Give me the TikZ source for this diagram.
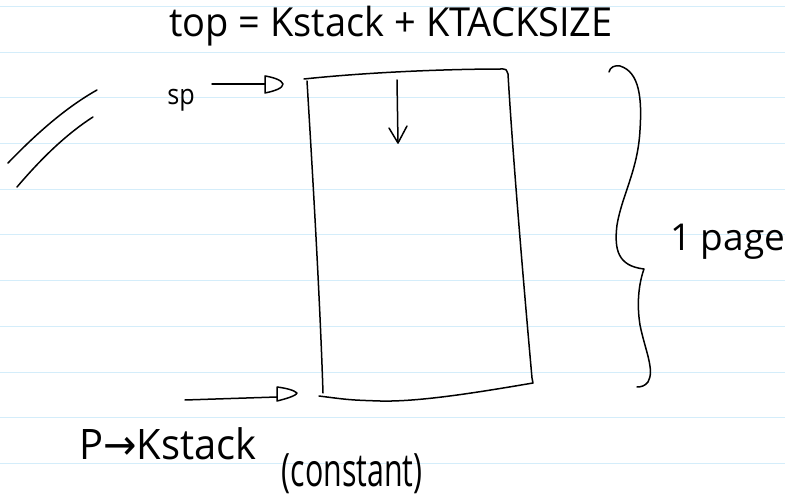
\documentclass[tikz,border=0pt]{standalone}
\usepackage{fontspec}
\setmainfont{Open Sans}
\newfontfamily\arrowfont{DejaVu Sans}
\definecolor{rulecol}{RGB}{212,237,250}
\begin{document}
\begin{tikzpicture}[x=1pt,y=-1pt,
  ink/.style={line width=1.5pt, line cap=round, line join=round, black},
  hand/.style={inner sep=0pt, outer sep=0pt, black},
  ruleline/.style={rulecol, line width=1pt}]
\useasboundingbox (0,0) rectangle (785,502);
\fill[white] (0,0) rectangle (785,502);
\foreach \i in {0,...,10} \draw[ruleline] (0,{6.5+45.7*\i}) -- (785,{6.5+45.7*\i});

% texts
\node[hand, font=\fontsize{40}{40}\selectfont, xscale=0.95] (toptext) at (391,26) {top = Kstack + KTACKSIZE};
\node[hand, font=\fontsize{28}{28}\selectfont, xscale=0.9] (sp) at (181,100) {sp};
\node[hand, font=\fontsize{42}{42}\selectfont, xscale=0.95] (pk) at (168,444) {P{\arrowfont →}Kstack};
\node[hand, font=\fontsize{46}{46}\selectfont, xscale=0.66] (const) at (352,474) {(constant)};
\node[hand, font=\fontsize{37}{37}\selectfont, anchor=west] (page) at (670,242) {1 page};

% named coordinates
\coordinate (tl) at (304,79);
\coordinate (tr) at (503,69);
\coordinate (br) at (533,383);
\coordinate (bl) at (319,396);

% stack rectangle
\draw[ink] (tl) .. controls (370,72) and (450,69) .. (tr) .. controls (506,69) .. (508,74)
  .. controls (513,160) and (525,300) .. (532,378) -- (br)
  .. controls (480,392) and (420,402) .. (380,401) .. controls (350,400) .. (bl);
\draw[ink] (307,81) .. controls (313,180) and (320,300) .. (323,393);

% down arrow inside
\coordinate (da) at (397,80);
\coordinate (db) at (398,143);
\draw[ink] (da) -- (db);
\draw[ink] (389,128) -- (db) -- (407,126);

% sp arrow
\coordinate (spa) at (212,84);
\coordinate (spb) at (265,84);
\draw[ink] (spa) -- (spb);
\draw[ink] (265,76) -- (265,93) .. controls (275,91) and (283,88) .. (283,84) .. controls (282,80) and (272,77) .. (265,76);

% bottom arrow
\coordinate (ba) at (185,400);
\coordinate (bb) at (277,397);
\draw[ink] (ba) -- (bb);
\draw[ink] (277,387) -- (277,401) .. controls (285,399) and (296,396) .. (297,393) .. controls (294,390) and (285,388) .. (277,387);

% slashes
\draw[ink] (8,163) .. controls (35,135) and (65,108) .. (97,90);
\draw[ink] (17,187) .. controls (40,160) and (65,135) .. (93,117);

% brace
\draw[ink] (609,72) .. controls (610,67) and (615,65) .. (620,66)
  .. controls (640,72) and (642,100) .. (640,130)
  .. controls (638,170) and (622,195) .. (617,225)
  .. controls (614,250) and (618,266) .. (644,269)
  .. controls (640,280) and (636,300) .. (640,325)
  .. controls (645,350) and (655,370) .. (648,382)
  .. controls (645,386) and (641,387) .. (637,387);
\end{tikzpicture}
\end{document}
